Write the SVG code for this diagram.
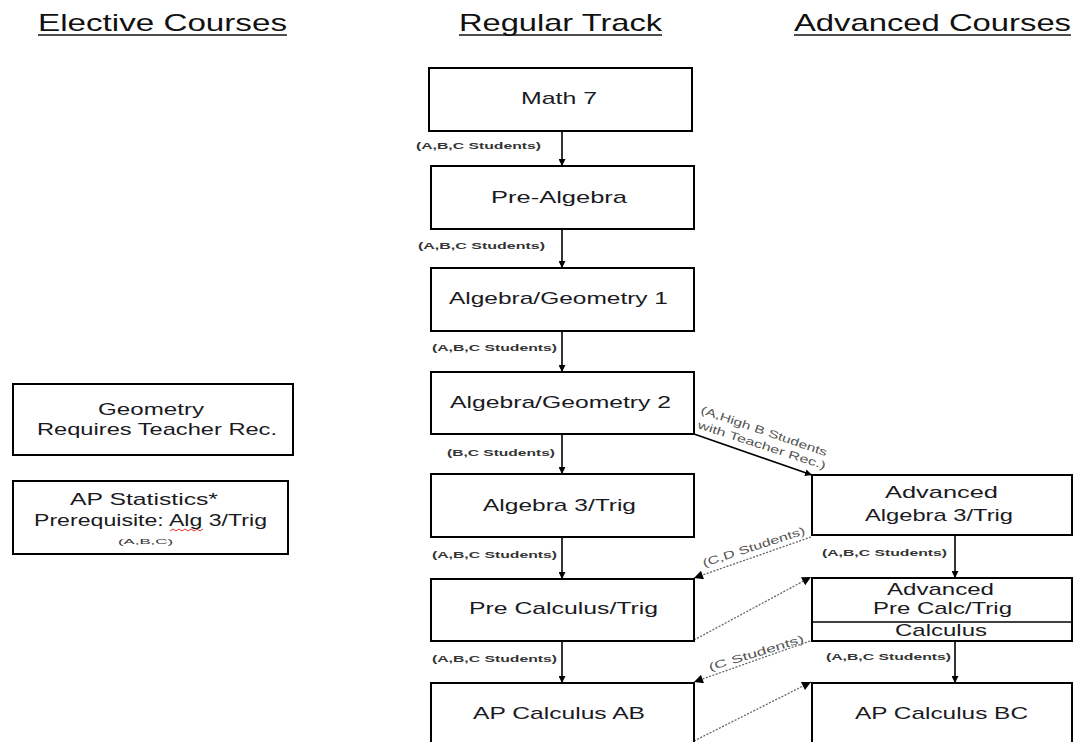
<svg xmlns="http://www.w3.org/2000/svg" width="1074" height="742" viewBox="0 0 1074 742">
<style>
  .box { fill: #fff; stroke: #000; stroke-width: 2; }
  .hdr { font-family: "Liberation Sans", Arial, sans-serif; font-size: 24px; fill: #111; }
  .t { font-family: "Liberation Sans", Arial, sans-serif; font-size: 17px; fill: #1a1a22; }
  .lbl { font-family: "Liberation Sans", Arial, sans-serif; font-size: 9.5px; font-weight: bold; fill: #333; }
  .rlbl { font-family: "Liberation Sans", Arial, sans-serif; font-size: 11px; fill: #555; }
  .conn { stroke: #000; stroke-width: 1.6; fill: none; }
  .dash { stroke: #666; stroke-width: 1.3; stroke-dasharray: 2 1.5; fill: none; }
</style>
<defs>
  <marker id="ah" viewBox="0 0 10 10" refX="10" refY="5" markerWidth="7" markerHeight="7" markerUnits="userSpaceOnUse" orient="auto">
    <path d="M0,0 L10,5 L0,10 Z" fill="#000"/>
  </marker>
  <marker id="ah2" viewBox="0 0 10 10" refX="10" refY="5" markerWidth="12" markerHeight="9" markerUnits="userSpaceOnUse" orient="auto">
    <path d="M0,0 L10,5 L0,10 Z" fill="#000"/>
  </marker>
</defs>
<rect width="1074" height="742" fill="#fff"/>

<g id="headers">
  <text class="hdr" x="38" y="31" textLength="249" lengthAdjust="spacingAndGlyphs">Elective Courses</text>
  <line x1="38" y1="35" x2="287" y2="35" stroke="#111" stroke-width="1.5"/>
  <text class="hdr" x="459" y="31" textLength="203" lengthAdjust="spacingAndGlyphs">Regular Track</text>
  <line x1="459" y1="35" x2="662" y2="35" stroke="#111" stroke-width="1.5"/>
  <text class="hdr" x="794" y="31" textLength="277" lengthAdjust="spacingAndGlyphs">Advanced Courses</text>
  <line x1="794" y1="35" x2="1071" y2="35" stroke="#111" stroke-width="1.5"/>
</g>

<g id="connectors">
  <line class="conn" x1="562" y1="131" x2="562" y2="166" marker-end="url(#ah)"/>
  <line class="conn" x1="562" y1="229" x2="562" y2="268" marker-end="url(#ah)"/>
  <line class="conn" x1="562" y1="331" x2="562" y2="372" marker-end="url(#ah)"/>
  <line class="conn" x1="562" y1="434" x2="562" y2="474" marker-end="url(#ah)"/>
  <line class="conn" x1="562" y1="537" x2="562" y2="579" marker-end="url(#ah)"/>
  <line class="conn" x1="562" y1="641" x2="562" y2="683" marker-end="url(#ah)"/>
  <line class="conn" x1="955" y1="535" x2="955" y2="578" marker-end="url(#ah)"/>
  <line class="conn" x1="955" y1="641" x2="955" y2="683" marker-end="url(#ah)"/>
  <line class="conn" x1="694" y1="434" x2="812" y2="475" marker-end="url(#ah)"/>
  <line class="dash" x1="811" y1="537" x2="694" y2="578" marker-end="url(#ah2)"/>
  <line class="dash" x1="694" y1="640" x2="811" y2="577" marker-end="url(#ah2)"/>
  <line class="dash" x1="810" y1="641" x2="694" y2="682" marker-end="url(#ah2)"/>
  <line class="dash" x1="694" y1="741" x2="811" y2="682" marker-end="url(#ah2)"/>

  <text class="lbl" x="416" y="149" textLength="125" lengthAdjust="spacingAndGlyphs">(A,B,C Students)</text>
  <text class="lbl" x="418" y="249" textLength="127" lengthAdjust="spacingAndGlyphs">(A,B,C Students)</text>
  <text class="lbl" x="432" y="351" textLength="125" lengthAdjust="spacingAndGlyphs">(A,B,C Students)</text>
  <text class="lbl" x="447" y="456" textLength="108" lengthAdjust="spacingAndGlyphs">(B,C Students)</text>
  <text class="lbl" x="432" y="558" textLength="125" lengthAdjust="spacingAndGlyphs">(A,B,C Students)</text>
  <text class="lbl" x="432" y="662" textLength="125" lengthAdjust="spacingAndGlyphs">(A,B,C Students)</text>
  <text class="lbl" x="822" y="556" textLength="125" lengthAdjust="spacingAndGlyphs">(A,B,C Students)</text>
  <text class="lbl" x="826" y="660" textLength="125" lengthAdjust="spacingAndGlyphs">(A,B,C Students)</text>

  <text class="rlbl" transform="translate(700,413) rotate(19)" textLength="133" lengthAdjust="spacingAndGlyphs">(A,High B Students</text>
  <text class="rlbl" transform="translate(697,428) rotate(18)" textLength="134" lengthAdjust="spacingAndGlyphs">with Teacher Rec.)</text>
  <text class="rlbl" transform="translate(704,567) rotate(-18)" textLength="107" lengthAdjust="spacingAndGlyphs">(C,D Students)</text>
  <text class="rlbl" transform="translate(710,671) rotate(-17)" textLength="99" lengthAdjust="spacingAndGlyphs">(C Students)</text>
</g>

<g id="math7">
  <rect class="box" x="429" y="68" width="263" height="63"/>
  <text class="t" x="521" y="104" textLength="76" lengthAdjust="spacingAndGlyphs">Math 7</text>
</g>
<g id="prealgebra">
  <rect class="box" x="431" y="166" width="263" height="63"/>
  <text class="t" x="491" y="203" textLength="136" lengthAdjust="spacingAndGlyphs">Pre-Algebra</text>
</g>
<g id="alggeo1">
  <rect class="box" x="431" y="268" width="263" height="63"/>
  <text class="t" x="449" y="304" textLength="219" lengthAdjust="spacingAndGlyphs">Algebra/Geometry 1</text>
</g>
<g id="alggeo2">
  <rect class="box" x="431" y="372" width="263" height="62"/>
  <text class="t" x="450" y="408" textLength="221" lengthAdjust="spacingAndGlyphs">Algebra/Geometry 2</text>
</g>
<g id="alg3trig">
  <rect class="box" x="431" y="474" width="263" height="63"/>
  <text class="t" x="483" y="511" textLength="153" lengthAdjust="spacingAndGlyphs">Algebra 3/Trig</text>
</g>
<g id="precalc">
  <rect class="box" x="431" y="579" width="263" height="62"/>
  <text class="t" x="469" y="614" textLength="189" lengthAdjust="spacingAndGlyphs">Pre Calculus/Trig</text>
</g>
<g id="apcalcab">
  <rect class="box" x="431" y="683" width="263" height="70"/>
  <text class="t" x="473" y="719" textLength="172" lengthAdjust="spacingAndGlyphs">AP Calculus AB</text>
</g>

<g id="geometry">
  <rect class="box" x="13" y="384" width="280" height="71"/>
  <text class="t" x="98" y="415" textLength="106" lengthAdjust="spacingAndGlyphs">Geometry</text>
  <text class="t" x="37" y="435" textLength="240" lengthAdjust="spacingAndGlyphs">Requires Teacher Rec.</text>
</g>
<g id="apstats">
  <rect class="box" x="13" y="481" width="275" height="73"/>
  <text class="t" x="70" y="505" textLength="148" lengthAdjust="spacingAndGlyphs">AP Statistics*</text>
  <text class="t" x="34" y="526" textLength="233" lengthAdjust="spacingAndGlyphs">Prerequisite: Alg 3/Trig</text>
  <path d="M170,531 l3,-2 l3,2 l3,-2 l3,2 l3,-2 l3,2 l3,-2 l3,2 l3,-2 l3,2 l3,-2" fill="none" stroke="#e03030" stroke-width="1"/>
  <text class="lbl" x="118" y="544" textLength="55" lengthAdjust="spacingAndGlyphs" style="font-weight:normal;font-size:8px">(A,B,C)</text>
</g>

<g id="advalg3">
  <rect class="box" x="812" y="475" width="260" height="60"/>
  <text class="t" x="885" y="498" textLength="113" lengthAdjust="spacingAndGlyphs">Advanced</text>
  <text class="t" x="865" y="521" textLength="148" lengthAdjust="spacingAndGlyphs">Algebra 3/Trig</text>
</g>
<g id="advprecalc">
  <rect class="box" x="812" y="578" width="260" height="63"/>
  <line x1="812" y1="622" x2="1072" y2="622" stroke="#000" stroke-width="1.5"/>
  <text class="t" x="887" y="595" textLength="107" lengthAdjust="spacingAndGlyphs">Advanced</text>
  <text class="t" x="873" y="614" textLength="139" lengthAdjust="spacingAndGlyphs">Pre Calc/Trig</text>
  <text class="t" x="895" y="636" textLength="92" lengthAdjust="spacingAndGlyphs">Calculus</text>
</g>
<g id="apcalcbc">
  <rect class="box" x="812" y="683" width="260" height="70"/>
  <text class="t" x="855" y="719" textLength="173" lengthAdjust="spacingAndGlyphs">AP Calculus BC</text>
</g>
</svg>
